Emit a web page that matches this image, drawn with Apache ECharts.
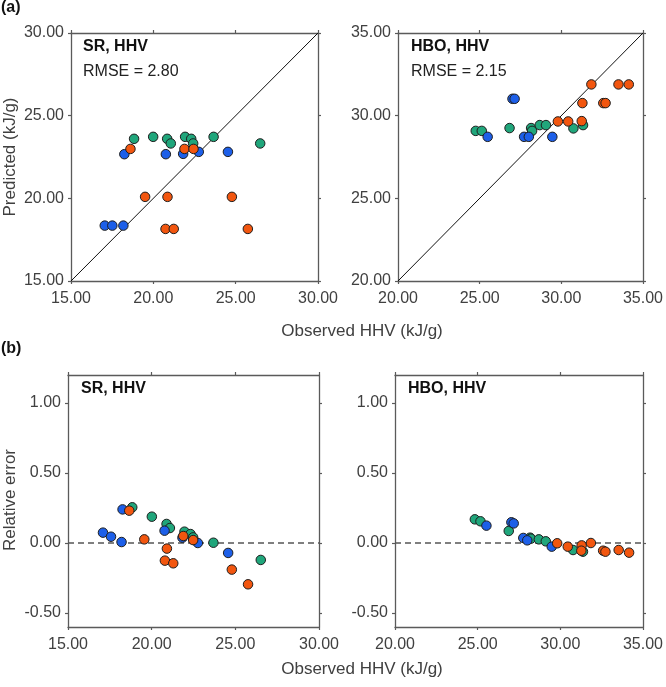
<!DOCTYPE html>
<html><head><meta charset="utf-8">
<script src="https://cdn.jsdelivr.net/npm/echarts@6/dist/echarts.min.js"></script>
<style>html,body{margin:0;padding:0;background:#fff}#c{width:666px;height:687px}</style>
</head><body><div id="c"></div>
<script>
// ---------- data ----------
// (a) SR: [observed, predicted]
const srGreen  = [[18.83,23.60],[19.99,23.72],[20.84,23.60],[21.06,23.32],[21.93,23.72],[22.30,23.60],[22.42,23.32],[23.66,23.72],[26.49,23.32]];
const srBlue   = [[17.05,18.35],[17.51,18.35],[18.18,18.35],[18.24,22.67],[20.76,22.67],[21.81,22.69],[22.76,22.81],[24.53,22.81]];
const srOrange = [[18.61,22.99],[19.50,20.09],[20.86,20.09],[20.74,18.15],[21.24,18.15],[21.89,22.99],[22.44,22.99],[24.77,20.09],[25.74,18.15]];
// (a) HBO: [observed, predicted]
const hboGreen  = [[24.76,29.08],[25.13,29.08],[26.83,29.25],[28.15,29.25],[28.21,29.08],[28.68,29.43],[29.06,29.43],[30.74,29.23],[31.33,29.43]];
const hboBlue   = [[25.49,28.72],[27.01,31.02],[27.14,31.02],[27.72,28.72],[28.01,28.72],[29.45,28.72]];
const hboOrange = [[29.79,29.65],[30.42,29.65],[31.25,29.67],[31.29,30.76],[31.84,31.89],[32.57,30.76],[32.71,30.76],[33.50,31.89],[34.13,31.89]];
// (b) SR: [observed, relative error]
const srErrGreen  = [[18.84,0.255],[20.01,0.188],[20.89,0.136],[21.09,0.107],[21.96,0.081],[22.32,0.064],[22.48,0.040],[23.69,0.002],[26.52,-0.121]];
const srErrBlue   = [[17.09,0.074],[17.57,0.045],[18.20,0.007],[18.26,0.240],[20.77,0.088],[21.84,0.038],[22.76,0.000],[24.57,-0.071]];
const srErrOrange = [[18.66,0.231],[19.56,0.026],[20.91,-0.040],[20.79,-0.126],[21.29,-0.145],[21.89,0.050],[22.48,0.021],[24.79,-0.190],[25.76,-0.295]];
// (b) HBO: [observed, relative error]
const hboErrGreen  = [[24.83,0.169],[25.17,0.155],[26.88,0.086],[28.17,0.038],[28.22,0.031],[28.70,0.026],[29.12,0.012],[30.77,-0.050],[31.37,-0.062]];
const hboErrBlue   = [[25.53,0.124],[27.04,0.148],[27.18,0.140],[27.76,0.036],[28.00,0.019],[29.48,-0.026]];
const hboErrOrange = [[29.81,-0.002],[30.45,-0.026],[31.29,-0.017],[31.27,-0.055],[31.85,0.000],[32.59,-0.055],[32.73,-0.062],[33.53,-0.050],[34.16,-0.069]];

const srRange = [15, 30];
const hboRange = [20, 35];
const errRange = [-0.6, 1.2];
const errTicks = [-0.5, 0, 0.5, 1.0];
const panelTitles = ['SR, HHV', 'HBO, HHV', 'SR, HHV', 'HBO, HHV'];
const rmseTexts = ['RMSE = 2.80', 'RMSE = 2.15'];
const xName = 'Observed HHV (kJ/g)';
const yNameTop = 'Predicted (kJ/g)';
const yNameBottom = 'Relative error';

// ---------- styling ----------
const FONT = '"Liberation Sans", Arial, sans-serif';
const TXT = '#404040';
const AXC = '#5a5a5a';
const C_GREEN = '#20a67b', C_BLUE = '#1d5fe8', C_ORANGE = '#f2560f';

const grids = [
  {left: 71, top: 33, width: 247, height: 248},
  {left: 398, top: 33, width: 247, height: 248},
  {left: 68, top: 375, width: 251, height: 252},
  {left: 395, top: 375, width: 251, height: 252}
];

const fmt = v => Number(v).toFixed(2);
const axLine = {show: true, onZero: false, lineStyle: {color: AXC, width: 1.3}};
const axTick = {show: true, length: 3, lineStyle: {color: AXC, width: 1.2}};

const xAxes = [], yAxes = [];
function addX(g, range, interval) {
  xAxes.push({type: 'value', gridIndex: g, position: 'bottom', min: range[0], max: range[1], interval: interval,
    axisLine: axLine, axisTick: axTick, splitLine: {show: false},
    axisLabel: {show: true, formatter: fmt, color: TXT, fontSize: 16, fontFamily: FONT, margin: 10}});
  xAxes.push({type: 'value', gridIndex: g, position: 'top', min: range[0], max: range[1], interval: interval,
    axisLine: axLine, axisTick: axTick, splitLine: {show: false}, axisLabel: {show: false}});
}
function addY(g, range, interval, custom) {
  const lab = {show: true, formatter: fmt, color: TXT, fontSize: 16, fontFamily: FONT, margin: 7};
  const tick = Object.assign({}, axTick);
  if (custom) { lab.customValues = custom; tick.customValues = custom; }
  const base = {type: 'value', gridIndex: g, min: range[0], max: range[1], splitLine: {show: false}, axisLine: axLine};
  if (interval) base.interval = interval;
  yAxes.push(Object.assign({}, base, {position: 'left', axisTick: tick, axisLabel: lab}));
  yAxes.push(Object.assign({}, base, {position: 'right', axisTick: tick, axisLabel: Object.assign({}, lab, {show: false})}));
}
addX(0, srRange, 5);  addY(0, srRange, 5);
addX(1, hboRange, 5); addY(1, hboRange, 5);
addX(2, srRange, 5);  addY(2, errRange, null, errTicks);
addX(3, hboRange, 5); addY(3, errRange, null, errTicks);

const series = [];
function scat(g, data, color) {
  series.push({type: 'scatter', xAxisIndex: 2 * g, yAxisIndex: 2 * g, data: data, symbol: 'circle', symbolSize: 9.5,
    itemStyle: {color: color, borderColor: '#1e1e1e', borderWidth: 1, opacity: 1}, z: 3, silent: true,
    emphasis: {disabled: true}});
}
function refLine(g, data, dashed) {
  series.push({type: 'line', xAxisIndex: 2 * g, yAxisIndex: 2 * g, data: data, symbol: 'none', silent: true, z: 1,
    lineStyle: dashed ? {color: '#555', width: 1.5, type: [6, 4]} : {color: '#111', width: 1}});
}
refLine(0, [[srRange[0], srRange[0]], [srRange[1], srRange[1]]], false);
refLine(1, [[hboRange[0], hboRange[0]], [hboRange[1], hboRange[1]]], false);
refLine(2, [[srRange[0], 0], [srRange[1], 0]], true);
refLine(3, [[hboRange[0], 0], [hboRange[1], 0]], true);

scat(0, srGreen, C_GREEN);   scat(0, srBlue, C_BLUE);   scat(0, srOrange, C_ORANGE);
scat(1, hboGreen, C_GREEN);  scat(1, hboBlue, C_BLUE);  scat(1, hboOrange, C_ORANGE);
scat(2, srErrGreen, C_GREEN);  scat(2, srErrBlue, C_BLUE);  scat(2, srErrOrange, C_ORANGE);
scat(3, hboErrGreen, C_GREEN); scat(3, hboErrBlue, C_BLUE); scat(3, hboErrOrange, C_ORANGE);

const titleStyleBold = {color: '#111', fontSize: 16, fontWeight: 'bold', fontFamily: FONT};
const titleStyleReg = {color: '#222', fontSize: 16, fontWeight: 'normal', fontFamily: FONT};
const titles = [
  {text: '(a)', left: 1, top: 0, textStyle: titleStyleBold},
  {text: '(b)', left: 1, top: 341, textStyle: titleStyleBold},
  {text: panelTitles[0], left: 83, top: 39, textStyle: titleStyleBold},
  {text: rmseTexts[0], left: 83, top: 64, textStyle: titleStyleReg},
  {text: panelTitles[1], left: 411, top: 39, textStyle: titleStyleBold},
  {text: rmseTexts[1], left: 411, top: 64, textStyle: titleStyleReg},
  {text: panelTitles[2], left: 81, top: 381, textStyle: titleStyleBold},
  {text: panelTitles[3], left: 408, top: 381, textStyle: titleStyleBold}
];
titles.forEach(t => { t.padding = 0; });

const nameStyle = {fill: TXT, fontSize: 17, fontFamily: FONT, textAlign: 'center', textVerticalAlign: 'middle'};
const graphic = [
  {type: 'text', x: 362, y: 331, style: Object.assign({text: xName}, nameStyle)},
  {type: 'text', x: 362, y: 669, style: Object.assign({text: xName}, nameStyle)},
  {type: 'text', x: 10, y: 157, rotation: Math.PI / 2, style: Object.assign({text: yNameTop}, nameStyle)},
  {type: 'text', x: 10, y: 500, rotation: Math.PI / 2, style: Object.assign({text: yNameBottom}, nameStyle)}
];

const chart = echarts.init(document.getElementById('c'), null, {renderer: 'canvas'});
chart.setOption({
  backgroundColor: '#fff',
  animation: false,
  textStyle: {fontFamily: FONT},
  title: titles,
  grid: grids,
  xAxis: xAxes,
  yAxis: yAxes,
  series: series,
  graphic: graphic
});
</script></body></html>
